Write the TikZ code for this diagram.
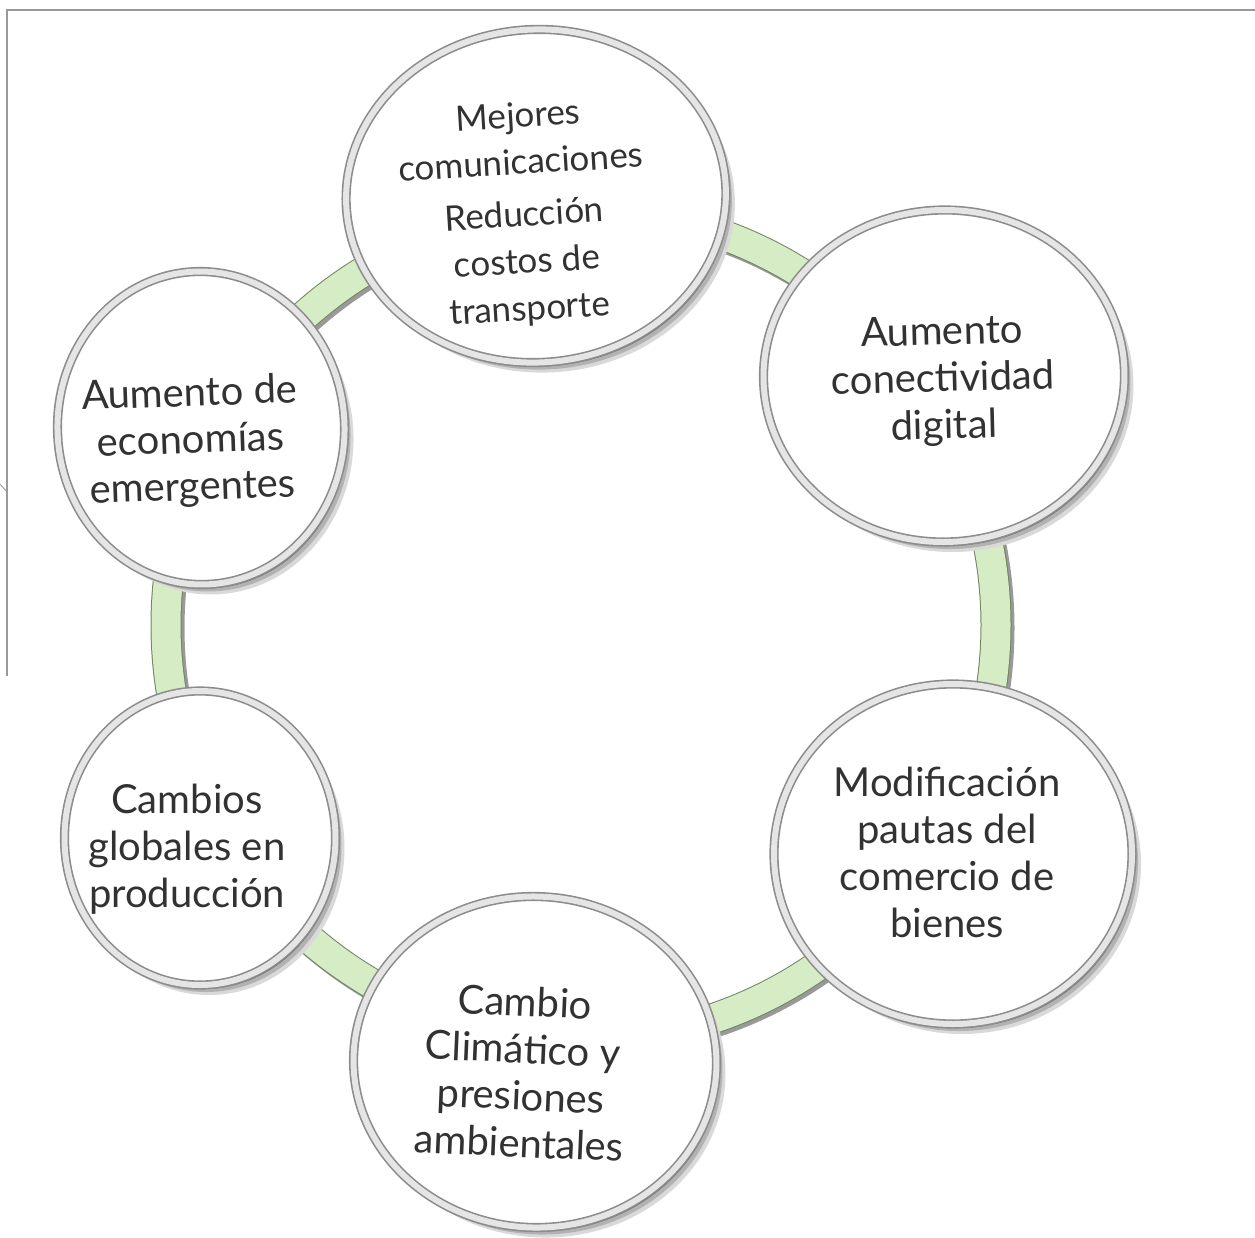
\documentclass[tikz,border=0pt]{standalone}
\usepackage{fontspec}
\setmainfont{Lato}
\usetikzlibrary{shapes.geometric}

\definecolor{ringgreen}{RGB}{214,236,196}
\definecolor{ringedge}{RGB}{112,132,98}
\definecolor{txtgray}{RGB}{50,50,50}

\begin{document}
\begin{tikzpicture}[x=1pt,y=-1pt,
bubble/.style={ellipse,inner sep=0pt,fill=white,draw=black!45,line width=1.6pt,double=black!10,double distance=6pt,
  preaction={fill=black!15,transform canvas={xshift=9pt,yshift=-10pt}},
  preaction={fill=black!30,transform canvas={xshift=6pt,yshift=-7pt}},
  preaction={fill=black!60,transform canvas={xshift=3pt,yshift=-4pt}}},
lbl/.style={align=center,text=txtgray,font=\fontsize{40}{47}\selectfont}]
\useasboundingbox (0,0) rectangle (1255,1237);
\fill[white] (0,0) rectangle (1255,1237);
% frame
\draw[black!40,line width=1.3pt] (1255,10) -- (7,10) -- (7,676);
\draw[black!40,line width=0.8pt] (0,484) -- (7,492);
% ring
\coordinate (ring) at (581,625);
\draw[black!40,line width=31pt,transform canvas={xshift=3pt,yshift=-3pt}] (ring) circle [radius=415pt];
\draw[ringedge,line width=1pt,double=ringgreen,double distance=29pt] (ring) circle [radius=415pt];
% bubbles
\node[bubble,minimum width=380pt,minimum height=333pt,rotate=3.5] (comm) at (536,196) {};
\node[bubble,minimum width=361pt,minimum height=332pt,rotate=1.5] (digi) at (944,376) {};
\node[bubble,minimum width=358pt,minimum height=340pt] (trade) at (953,854) {};
\node[bubble,minimum width=363pt,minimum height=331pt,rotate=-2.5] (clim) at (535,1062) {};
\node[bubble,minimum width=271pt,minimum height=294pt] (prod) at (200,838) {};
\node[bubble,minimum width=287pt,minimum height=313pt,rotate=2] (emer) at (201,428) {};
% texts
\node[lbl,font=\fontsize{35}{47}\selectfont,rotate=3.5] (commtxt) at (524,214) {Mejores\\comunicaciones\\[5pt]Reducción\\costos de\\transporte};
\node[lbl,rotate=1.5] (digitxt) at (943,381) {Aumento\\conectividad\\digital};
\node[lbl] (tradetxt) at (947,852) {Modificación\\pautas del\\comercio de\\bienes};
\node[lbl,rotate=-2.5] (climtxt) at (522,1072) {Cambio\\Climático y\\presiones\\ambientales};
\node[lbl] (prodtxt) at (187,849) {Cambios\\globales en\\producción};
\node[lbl,rotate=2] (emertxt) at (191,442) {Aumento de\\economías\\emergentes};
\end{tikzpicture}
\end{document}
